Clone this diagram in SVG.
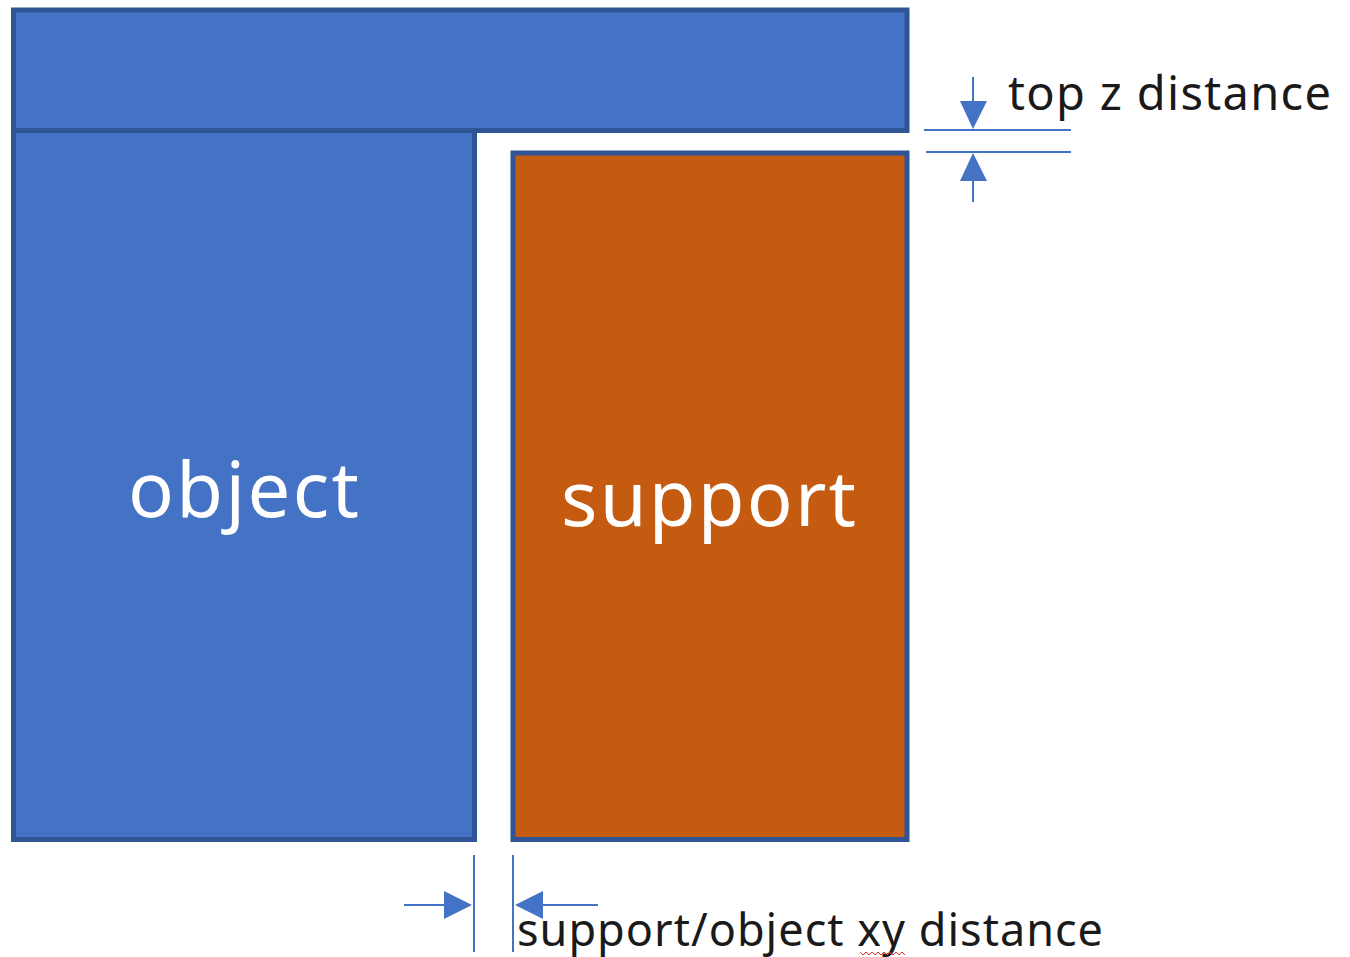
<svg xmlns="http://www.w3.org/2000/svg" width="1350" height="957" viewBox="0 0 1350 957">
<style>
.blk{fill:#4472C4;stroke:#2F5597;stroke-width:5}
.sup{fill:#C55A11;stroke:#2F5597;stroke-width:5}
.dim{stroke:#4472C4;stroke-width:2;fill:none}
.ah{fill:#4472C4}
.lbl{font-family:"Noto Sans","Open Sans",sans-serif;fill:#1a1a1a}
.in{font-family:"Noto Sans","Open Sans",sans-serif;fill:#ffffff}
</style>
<rect width="1350" height="957" fill="#ffffff"/>
<g id="top-bar"><rect class="blk" x="13.5" y="10" width="893.5" height="120.5"/></g>
<g id="object"><rect class="blk" x="13.5" y="130.5" width="461" height="709"/><text class="in" x="128" y="517" font-size="76" textLength="231" lengthAdjust="spacing">object</text></g>
<g id="support"><rect class="sup" x="513" y="153" width="394" height="686.5"/><text class="in" x="561" y="526" font-size="76" textLength="295" lengthAdjust="spacing">support</text></g>
<g id="connectors">
<line class="dim" x1="924" y1="130" x2="1071" y2="130"/>
<line class="dim" x1="926" y1="152" x2="1071" y2="152"/>
<line class="dim" x1="973" y1="77" x2="973" y2="102"/>
<polygon class="ah" points="960,101 987,101 973,129"/>
<line class="dim" x1="973" y1="180" x2="973" y2="202"/>
<polygon class="ah" points="960,181 987,181 973,153"/>
<line class="dim" x1="474" y1="855" x2="474" y2="952"/>
<line class="dim" x1="513" y1="855" x2="513" y2="952"/>
<line class="dim" x1="404" y1="905" x2="446" y2="905"/>
<polygon class="ah" points="444,891 444,919 472,905"/>
<line class="dim" x1="541" y1="905" x2="598" y2="905"/>
<polygon class="ah" points="543,891 543,919 515,905"/>
</g>
<g id="label-top"><text class="lbl" x="1008" y="110" font-size="47" textLength="323" lengthAdjust="spacing">top z distance</text></g>
<g id="label-xy"><text class="lbl" x="517" y="946" font-size="45" textLength="586" lengthAdjust="spacing">support/object xy distance</text>
<path d="M860,952 l3,3 l3,-3 l3,3 l3,-3 l3,3 l3,-3 l3,3 l3,-3 l3,3 l3,-3 l3,3 l3,-3 l3,3 l3,-3 l3,3" fill="none" stroke="#e03030" stroke-width="1"/></g>
</svg>
